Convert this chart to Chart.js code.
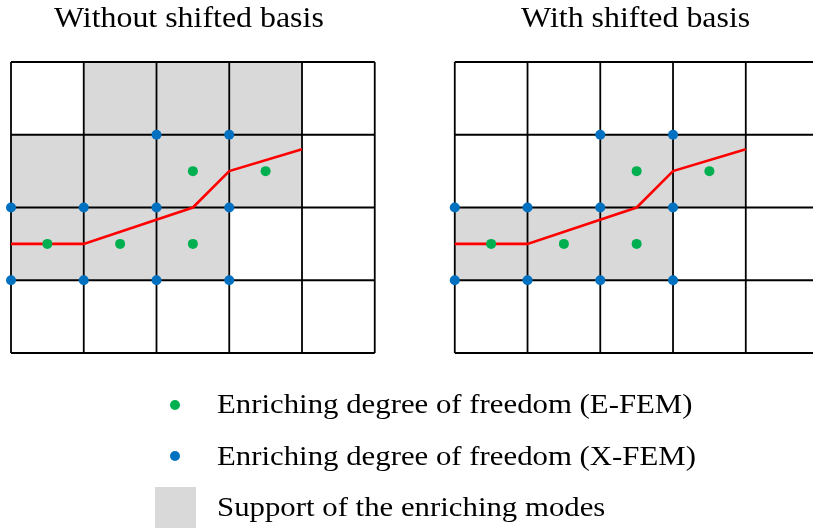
<!DOCTYPE html>
<html>
<head>
<meta charset="utf-8">
<script src="https://cdn.jsdelivr.net/npm/chart.js@4.4.1/dist/chart.umd.min.js"></script>
<style>
  html, body { margin: 0; padding: 0; background: #fff; overflow: hidden; }
  #wrap { width: 813px; height: 529px; position: relative; }
</style>
</head>
<body>
<div id="wrap"><canvas id="chart"></canvas></div>
<script>
// mesh: 5 x 4 cells per panel, second panel shifted right
var gridCols = 5;
var gridRows = 4;
var panelShift = [0, 6.1];
var panelTitles = ["Without shifted basis", "With shifted basis"];

// crack path (cell units)
var crackX = [0, 1, 2.5, 3, 4];
var crackY = [1.5, 1.5, 2, 2.5, 2.8];

// E-FEM enriched dofs (cell centres)
var eFemX = [0.5, 1.5, 2.5, 2.5, 3.5];
var eFemY = [1.5, 1.5, 1.5, 2.5, 2.5];

// X-FEM enriched dofs (nodes)
var xFemX = [0, 1, 2, 3, 0, 1, 2, 3, 2, 3];
var xFemY = [1, 1, 1, 1, 2, 2, 2, 2, 3, 3];

// support of enriching modes: row index, first col, last col + 1
var supportRowA = [3, 2, 1];
var supportFromA = [1, 0, 0];
var supportToA = [4, 4, 3];
var supportRowB = [2, 1];
var supportFromB = [2, 0];
var supportToB = [4, 3];

var legendLabels = [
  "Enriching degree of freedom (E-FEM)",
  "Enriching degree of freedom (X-FEM)",
  "Support of the enriching modes"
];

var green = "#00b050";
var blue = "#0070c0";
var red = "#ff0000";
var gray = "#d9d9d9";

var cell = 72.75; // px per cell
var datasets = [];

function pts(xs, ys, dx) {
  return xs.map(function (x, i) { return { x: x + dx, y: ys[i] }; });
}

panelShift.forEach(function (dx) {
  datasets.push({ type: 'scatter', data: pts(eFemX, eFemY, dx), backgroundColor: green,
    pointRadius: 5, pointBorderWidth: 0, pointHoverRadius: 5 });
  datasets.push({ type: 'scatter', data: pts(xFemX, xFemY, dx), backgroundColor: blue,
    pointRadius: 5, pointBorderWidth: 0, pointHoverRadius: 5 });
  datasets.push({ type: 'scatter', data: pts(crackX, crackY, dx), showLine: true,
    borderColor: red, borderWidth: 2.6, pointRadius: 0 });
});

panelShift.forEach(function (dx) {
  for (var c = 0; c <= gridCols; c++) {
    datasets.push({ type: 'scatter', data: [{ x: c + dx, y: 0 }, { x: c + dx, y: gridRows }],
      showLine: true, borderColor: "#000", borderWidth: 1.8, pointRadius: 0 });
  }
  for (var r = 0; r <= gridRows; r++) {
    datasets.push({ type: 'scatter', data: [{ x: dx, y: r }, { x: gridCols + dx, y: r }],
      showLine: true, borderColor: "#000", borderWidth: 1.8, pointRadius: 0 });
  }
});

function addSupport(rows, from, to, dx) {
  rows.forEach(function (r, i) {
    datasets.push({ type: 'line', data: [{ x: from[i] + dx, y: r + 1 }, { x: to[i] + dx, y: r + 1 }],
      fill: { value: r }, backgroundColor: gray, borderWidth: 0, pointRadius: 0 });
  });
}
addSupport(supportRowA, supportFromA, supportToA, panelShift[0]);
addSupport(supportRowB, supportFromB, supportToB, panelShift[1]);

// text is a bit narrower than the LaTeX font, stretch it a little
function wideText(ctx, t, x, y, k) {
  ctx.save();
  ctx.translate(x, y);
  ctx.scale(k, 1);
  ctx.fillText(t, 0, 0);
  ctx.restore();
}

var titleNudge = [-4, -1];

var textPlugin = {
  id: 'texts',
  afterDraw: function (chart) {
    var ctx = chart.ctx;
    var sx = chart.scales.x;
    ctx.save();
    ctx.fillStyle = "#000";
    ctx.font = '29px "Liberation Serif", serif';
    ctx.textAlign = 'center';
    ctx.textBaseline = 'alphabetic';
    panelShift.forEach(function (dx, i) {
      wideText(ctx, panelTitles[i], sx.getPixelForValue(dx + gridCols / 2) + titleNudge[i], 27, 1.1);
    });

    // legend
    var base = [413, 465, 516];
    ctx.fillStyle = green;
    ctx.beginPath(); ctx.arc(175, 405, 5, 0, Math.PI * 2); ctx.fill();
    ctx.fillStyle = blue;
    ctx.beginPath(); ctx.arc(175, 456, 5, 0, Math.PI * 2); ctx.fill();
    ctx.fillStyle = gray;
    ctx.fillRect(155, 487, 41, 41);
    ctx.fillStyle = "#000";
    ctx.font = '28px "Liberation Serif", serif';
    ctx.textAlign = 'left';
    legendLabels.forEach(function (t, i) { wideText(ctx, t, 217, base[i], 1.1); });
    ctx.restore();
  }
};

new Chart('chart', {
  type: 'scatter',
  data: { datasets: datasets },
  options: {
    responsive: true,
    maintainAspectRatio: false,
    animation: false,
    layout: { padding: 0, autoPadding: false },
    scales: {
      x: { type: 'linear', display: false, min: -11 / cell, max: (813 - 11) / cell },
      y: { type: 'linear', display: false, min: (353 - 529) / cell, max: 353 / cell }
    },
    plugins: {
      legend: { display: false },
      tooltip: { enabled: false },
      filler: { drawTime: 'beforeDatasetsDraw' }
    },
    events: []
  },
  plugins: [textPlugin]
});
</script>
</body>
</html>
